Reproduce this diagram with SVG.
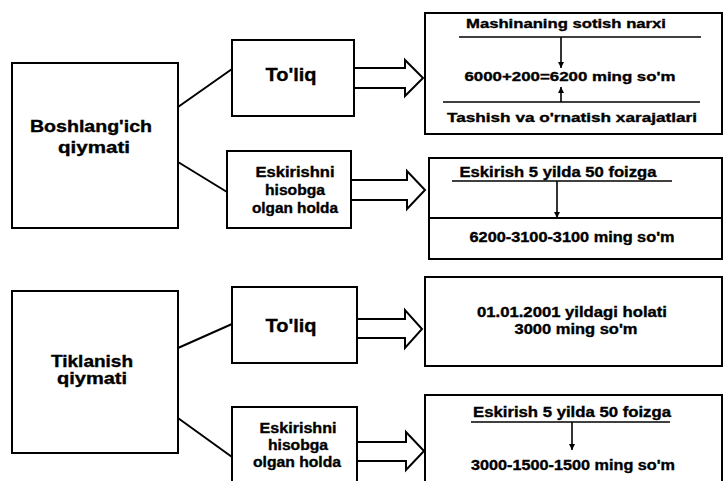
<svg xmlns="http://www.w3.org/2000/svg" width="723" height="481" viewBox="0 0 723 481">
<style>
.box{fill:#fff;stroke:#000;stroke-width:2}
.ln{stroke:#000;stroke-width:2;fill:none}
.thin{stroke:#000;stroke-width:1.6;fill:none}
.big{stroke:#000;stroke-width:2;fill:#fff;stroke-linejoin:miter}
text{font-family:"Liberation Sans",Arial,sans-serif;font-weight:bold;fill:#000;stroke:#000;stroke-width:0.35;text-anchor:middle}
.t16{font-size:16px}
.t19{font-size:19px}
.t14{font-size:14px}
.t13{font-size:13px}
</style>
<defs>
<marker id="ah" viewBox="0 0 10 10" refX="10" refY="5" markerWidth="7" markerHeight="6" orient="auto" markerUnits="userSpaceOnUse">
<path d="M0,0 L10,5 L0,10 z" fill="#000"/>
</marker>
</defs>
<rect width="723" height="481" fill="#fff"/>

<g id="connectors">
<line class="ln" x1="178" y1="107" x2="232" y2="69"/>
<line class="ln" x1="178" y1="162" x2="227" y2="192"/>
<line class="ln" x1="178" y1="348" x2="232" y2="324"/>
<line class="ln" x1="171" y1="413" x2="232" y2="457"/>
<polygon class="big" points="354,68 405,68 405,60 423,78 405,96 405,88 354,88"/>
<polygon class="big" points="351,180 407,180 407,171 425,190 407,209 407,200 351,200"/>
<polygon class="big" points="357,319 405,319 405,310 422,329 405,348 405,338 357,338"/>
<polygon class="big" points="357,442 406,442 406,432 424,451 406,470 406,461 357,461"/>
</g>

<g id="boshlang">
<rect class="box" x="12" y="63" width="166" height="165"/>
<text class="t16" x="91" y="132" textLength="122" lengthAdjust="spacingAndGlyphs">Boshlang'ich</text>
<text class="t16" x="94" y="153" textLength="72" lengthAdjust="spacingAndGlyphs">qiymati</text>
</g>

<g id="toliq1">
<rect class="box" x="232" y="40" width="122" height="76"/>
<text class="t19" x="291" y="81" textLength="51" lengthAdjust="spacingAndGlyphs">To'liq</text>
</g>

<g id="eskirishni1">
<rect class="box" x="227" y="151" width="124" height="77"/>
<text class="t14" x="295" y="177" textLength="79" lengthAdjust="spacingAndGlyphs">Eskirishni</text>
<text class="t14" x="295" y="195" textLength="60" lengthAdjust="spacingAndGlyphs">hisobga</text>
<text class="t14" x="295" y="213" textLength="86" lengthAdjust="spacingAndGlyphs">olgan holda</text>
</g>

<g id="narx">
<rect class="box" x="425" y="13" width="297" height="121"/>
<text class="t13" x="566" y="28" textLength="200" lengthAdjust="spacingAndGlyphs">Mashinaning sotish narxi</text>
<line class="thin" x1="459" y1="37" x2="701" y2="37"/>
<line class="thin" x1="561" y1="37" x2="561" y2="68" marker-end="url(#ah)"/>
<text class="t13" x="570" y="81" textLength="211" lengthAdjust="spacingAndGlyphs">6000+200=6200  ming so'm</text>
<line class="thin" x1="561" y1="102" x2="561" y2="87" marker-end="url(#ah)"/>
<line class="thin" x1="443" y1="102" x2="700" y2="102"/>
<text class="t13" x="572" y="122" textLength="250" lengthAdjust="spacingAndGlyphs">Tashish va o'rnatish xarajatlari</text>
</g>

<g id="eskirish1">
<rect class="box" x="429" y="158" width="293" height="101"/>
<line class="ln" x1="429" y1="218" x2="722" y2="218"/>
<text class="t14" x="558" y="177" textLength="197" lengthAdjust="spacingAndGlyphs">Eskirish 5 yilda 50 foizga</text>
<line class="thin" x1="452" y1="181" x2="672" y2="181"/>
<line class="thin" x1="557" y1="181" x2="557" y2="218" marker-end="url(#ah)"/>
<text class="t14" x="572" y="242" textLength="205" lengthAdjust="spacingAndGlyphs">6200-3100-3100 ming so'm</text>
</g>

<g id="tiklanish">
<rect class="box" x="12" y="291" width="166" height="162"/>
<text class="t16" x="92" y="367" textLength="82" lengthAdjust="spacingAndGlyphs">Tiklanish</text>
<text class="t16" x="92" y="384" textLength="70" lengthAdjust="spacingAndGlyphs">qiymati</text>
</g>

<g id="toliq2">
<rect class="box" x="232" y="287" width="125" height="76"/>
<text class="t19" x="291" y="332" textLength="51" lengthAdjust="spacingAndGlyphs">To'liq</text>
</g>

<g id="eskirishni2">
<rect class="box" x="232" y="407" width="125" height="85"/>
<text class="t14" x="298" y="433" textLength="77" lengthAdjust="spacingAndGlyphs">Eskirishni</text>
<text class="t14" x="298" y="450" textLength="60" lengthAdjust="spacingAndGlyphs">hisobga</text>
<text class="t14" x="297" y="467" textLength="88" lengthAdjust="spacingAndGlyphs">olgan holda</text>
</g>

<g id="holati">
<rect class="box" x="425" y="277" width="297" height="89"/>
<text class="t14" x="572" y="317" textLength="190" lengthAdjust="spacingAndGlyphs">01.01.2001 yildagi holati</text>
<text class="t14" x="576" y="334" textLength="123" lengthAdjust="spacingAndGlyphs">3000 ming so'm</text>
</g>

<g id="eskirish2">
<rect class="box" x="425" y="395" width="297" height="97"/>
<text class="t14" x="572" y="417" textLength="198" lengthAdjust="spacingAndGlyphs">Eskirish 5 yilda 50 foizga</text>
<line class="thin" x1="471" y1="422" x2="670" y2="422"/>
<line class="thin" x1="572" y1="422" x2="572" y2="450" marker-end="url(#ah)"/>
<text class="t14" x="573" y="470" textLength="204" lengthAdjust="spacingAndGlyphs">3000-1500-1500 ming so'm</text>
</g>
</svg>
